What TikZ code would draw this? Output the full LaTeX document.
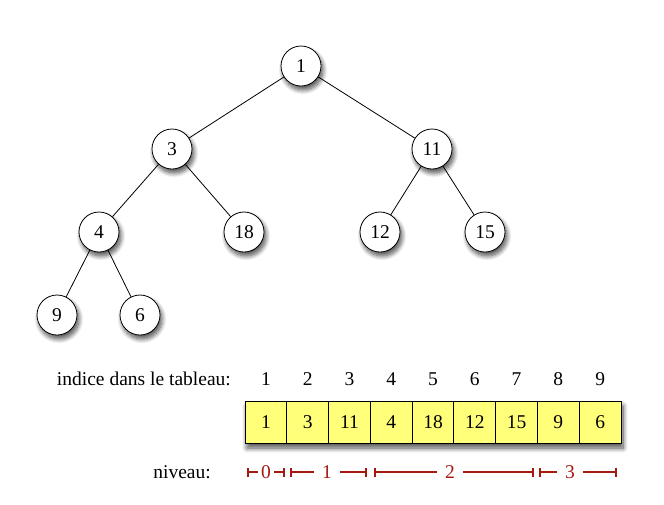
\documentclass[tikz,border=0pt]{standalone}
\usepackage{fontspec}
\setmainfont{Liberation Serif}
\usetikzlibrary{shadows.blur,arrows.meta}
\definecolor{cellyellow}{RGB}{255,255,122}
\definecolor{lvlred}{RGB}{165,25,15}
\begin{document}
\begin{tikzpicture}[x=1pt,y=-1pt,font=\fontsize{19.5}{23}\selectfont,
  hn/.style={circle,draw,line width=0.8pt,fill=white,minimum size=40pt,inner sep=0pt,
    blur shadow={shadow xshift=2pt,shadow yshift=-4pt,shadow blur steps=10,shadow blur radius=4.5pt,shadow opacity=70}},
  cell/.style={draw,line width=0.9pt,fill=cellyellow,minimum width=41.78pt,minimum height=42pt,inner sep=0pt,outer sep=0pt,anchor=west},
  idx/.style={inner sep=0pt},
  lvl/.style={draw=lvlred,line width=1.6pt,{Bar[width=9pt,line width=1.8pt]}-{Bar[width=9pt,line width=1.8pt]}},
  lvllab/.style={fill=white,text=lvlred,inner ysep=4pt},
  edge/.style={draw,line width=0.8pt}]
\useasboundingbox (0,0) rectangle (664,504);
% tree
\node[hn] (n1) at (301,66) {1};
\node[hn] (n3) at (172,149) {3};
\node[hn] (n11) at (432,149) {11};
\node[hn] (n4) at (99,232) {4};
\node[hn] (n18) at (244,232) {18};
\node[hn] (n12) at (380,232) {12};
\node[hn] (n15) at (485,232) {15};
\node[hn] (n9) at (57,315) {9};
\node[hn] (n6) at (140,315) {6};
\path[edge] (n1) -- (n3);
\path[edge] (n1) -- (n11);
\path[edge] (n3) -- (n4);
\path[edge] (n3) -- (n18);
\path[edge] (n11) -- (n12);
\path[edge] (n11) -- (n15);
\path[edge] (n4) -- (n9);
\path[edge] (n4) -- (n6);
% array
\node[minimum width=376pt,minimum height=42pt,inner sep=0pt,outer sep=0pt,anchor=west,fill=white,
  blur shadow={shadow xshift=2pt,shadow yshift=-5pt,shadow blur steps=10,shadow blur radius=5pt,shadow opacity=70}] (arr) at (245,422) {};
\node[cell] (c1) at (245,422) {1};
\node[cell] (c2) at (c1.east) {3};
\node[cell] (c3) at (c2.east) {11};
\node[cell] (c4) at (c3.east) {4};
\node[cell] (c5) at (c4.east) {18};
\node[cell] (c6) at (c5.east) {12};
\node[cell] (c7) at (c6.east) {15};
\node[cell] (c8) at (c7.east) {9};
\node[cell] (c9) at (c8.east) {6};
\foreach \i in {1,...,9}{
  \node[idx] (i\i) at (c\i.center |- 0,379) {\i};
}
\node[idx,anchor=east] (lab1) at (231,379) {indice dans le tableau:};
\node[idx,anchor=east] (lab2) at (211,472) {niveau:};
% levels
\coordinate (l0a) at (247,472); \coordinate (l0b) at (285,472);
\coordinate (l1a) at (290,472); \coordinate (l1b) at (367,472);
\coordinate (l2a) at (374,472); \coordinate (l2b) at (534,472);
\coordinate (l3a) at (539,472); \coordinate (l3b) at (617,472);
\draw[lvl] (l0a) -- (l0b);
\draw[lvl] (l1a) -- (l1b);
\draw[lvl] (l2a) -- (l2b);
\draw[lvl] (l3a) -- (l3b);
\node[lvllab,inner xsep=3pt] (v0) at (266,472) {0};
\node[lvllab,inner xsep=8pt] (v1) at (327,472) {1};
\node[lvllab,inner xsep=8pt] (v2) at (450,472) {2};
\node[lvllab,inner xsep=8pt] (v3) at (570,472) {3};
\end{tikzpicture}
\end{document}
